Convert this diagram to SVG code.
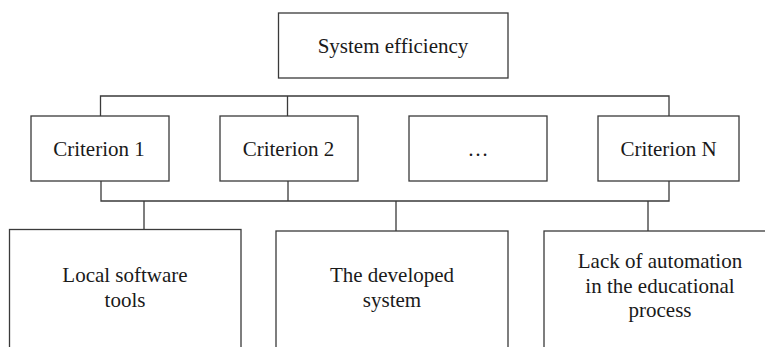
<svg xmlns="http://www.w3.org/2000/svg" width="765" height="347" viewBox="0 0 765 347">
<style>
.box{fill:#fff;stroke:#3a3a3a;stroke-width:1.3}
.ln{fill:none;stroke:#3a3a3a;stroke-width:1.3}
.t{font-family:'Liberation Serif','Times New Roman','DejaVu Serif',serif;font-size:21px;fill:#1a1a1a;text-anchor:middle}
</style>
<rect width="765" height="347" fill="#fff"/>
<g id="connectors">
<path class="ln" d="M100.5,116 V96 H669 V116 M287.5,96 V116"/>
<path class="ln" d="M101,181 V201 H669 V181 M288,181 V201"/>
<path class="ln" d="M144,201 V229.5 M396,201 V231 M648,201 V231"/>
</g>
<g id="top"><rect class="box" x="278.5" y="13" width="229.5" height="65"/><text class="t" x="393" y="52.5">System efficiency</text></g>
<g id="c1"><rect class="box" x="31" y="116" width="138" height="65"/><text class="t" x="99" y="155.5">Criterion 1</text></g>
<g id="c2"><rect class="box" x="220" y="116" width="138" height="65"/><text class="t" x="288.5" y="155.5">Criterion 2</text></g>
<g id="cdots"><rect class="box" x="409" y="116" width="138" height="65"/><text class="t" x="478" y="155.5">…</text></g>
<g id="cn"><rect class="box" x="598" y="116" width="141" height="65"/><text class="t" x="668.5" y="155.5">Criterion N</text></g>
<g id="b1"><rect class="box" x="9.5" y="229.5" width="231.5" height="130"/><text class="t" x="125" y="281.5">Local software</text><text class="t" x="125" y="306.5">tools</text></g>
<g id="b2"><rect class="box" x="276" y="231" width="232" height="130"/><text class="t" x="392" y="281.5">The developed</text><text class="t" x="392" y="306.5">system</text></g>
<g id="b3"><rect class="box" x="544" y="231" width="240" height="130"/><text class="t" x="660" y="268">Lack of automation</text><text class="t" x="660" y="292.5">in the educational</text><text class="t" x="660" y="317">process</text></g>
</svg>
